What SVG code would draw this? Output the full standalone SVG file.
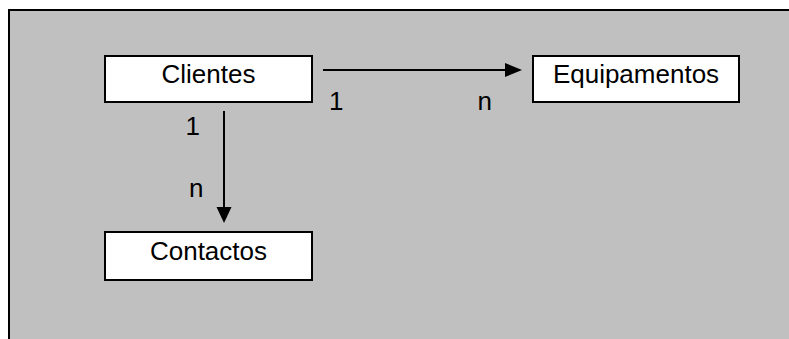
<svg xmlns="http://www.w3.org/2000/svg" width="789" height="339" viewBox="0 0 789 339">
<defs>
<style>
.box{fill:#ffffff;stroke:#000000;stroke-width:2}
.lbl{font-family:"Liberation Sans",Arial,sans-serif;font-size:26px;fill:#000000}
.con{stroke:#000000;stroke-width:2;fill:none}
</style>
<marker id="arr" markerWidth="10" markerHeight="10" refX="9" refY="5" orient="auto" markerUnits="userSpaceOnUse" viewBox="0 0 10 10">
<path d="M0,0 L10,5 L0,10 Z" fill="#000000"/>
</marker>
</defs>
<rect x="0" y="0" width="789" height="339" fill="#ffffff"/>
<rect x="9" y="10" width="782" height="332" fill="#c0c0c0"/>
<path d="M9,339 L9,10 L789,10" fill="none" stroke="#000000" stroke-width="2"/>
<g id="connectors">
<path d="M323,70 L505,70" class="con"/>
<path d="M505,63 L522,70 L505,77 Z" fill="#000000"/>
<path d="M224,111 L224,207" class="con"/>
<path d="M216.5,207 L224,223 L231.5,207 Z" fill="#000000"/>
<text x="329" y="110" class="lbl">1</text>
<text x="477.5" y="110" class="lbl">n</text>
<text x="185.5" y="135" class="lbl">1</text>
<text x="189" y="196.5" class="lbl">n</text>
</g>
<g id="clientes">
<rect x="105" y="56" width="207" height="46" class="box"/>
<text x="208.5" y="83" text-anchor="middle" class="lbl">Clientes</text>
</g>
<g id="equipamentos">
<rect x="533" y="56" width="206" height="46" class="box"/>
<text x="636" y="83" text-anchor="middle" class="lbl">Equipamentos</text>
</g>
<g id="contactos">
<rect x="105" y="232" width="207" height="48" class="box"/>
<text x="208.5" y="260" text-anchor="middle" class="lbl">Contactos</text>
</g>
</svg>
